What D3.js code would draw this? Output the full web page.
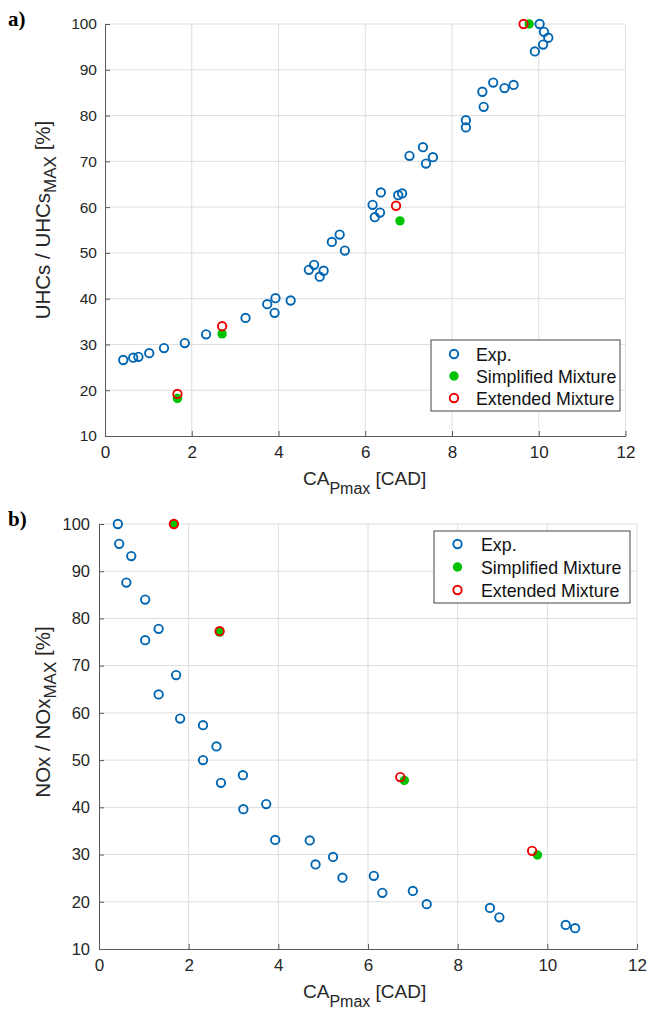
<!DOCTYPE html>
<html><head><meta charset="utf-8">
<script src="https://cdn.jsdelivr.net/npm/d3@7"></script>
<style>
body{margin:0;background:#fff;}
svg{display:block;font-family:"Liberation Sans",Arial,sans-serif;}
</style></head>
<body>
<svg id="chart" width="649" height="1009"></svg>
<script>
// ---------- data ----------
const xTicks = [0, 2, 4, 6, 8, 10, 12];
const yTicks = [10, 20, 30, 40, 50, 60, 70, 80, 90, 100];
const legendLabels = ["Exp.", "Simplified Mixture", "Extended Mixture"];

// panel a: UHCs
const aExpX = [0.42,0.65,0.77,1.02,1.36,1.84,2.33,3.24,3.74,3.93,3.91,4.28,4.70,4.82,5.04,4.95,5.23,5.41,5.53,6.17,6.22,6.34,6.36,6.76,6.85,7.02,7.33,7.40,7.56,8.32,8.32,8.70,8.73,8.95,9.21,9.42,9.91,10.02,10.10,10.12,10.22];
const aExpY = [26.6,27.1,27.3,28.1,29.2,30.3,32.2,35.8,38.8,40.1,36.9,39.6,46.3,47.4,46.1,44.8,52.4,54.0,50.5,60.5,57.8,58.8,63.2,62.6,63.0,71.2,73.1,69.5,70.9,79.0,77.4,85.2,81.9,87.2,86.0,86.7,94.0,100,95.5,98.3,97.0];
const aSimX = [1.67,2.70,6.80,9.78];
const aSimY = [18.2,32.3,57.0,100];
const aExtX = [1.67,2.70,6.71,9.65];
const aExtY = [19.2,34.0,60.3,100];

// panel b: NOx
const bExpX = [0.42,0.45,0.61,0.72,1.03,1.03,1.33,1.33,1.72,1.81,2.32,2.32,2.62,2.72,3.21,3.22,3.73,3.93,4.70,4.83,5.22,5.43,6.13,6.32,7.00,7.31,8.72,8.93,10.41,10.62];
const bExpY = [100,95.8,87.6,93.2,84.0,75.4,77.8,63.9,68.0,58.8,57.4,50.0,52.9,45.2,46.8,39.6,40.7,33.1,33.0,27.9,29.5,25.1,25.5,21.9,22.3,19.5,18.7,16.7,15.1,14.4];
const bSimX = [1.67,2.69,6.81,9.78];
const bSimY = [100,77.1,45.7,29.9];
const bExtX = [1.67,2.69,6.72,9.66];
const bExtY = [100,77.3,46.4,30.8];

// ---------- styles ----------
const BLUE = "#0066b3", GREEN = "#00c200", RED = "#ee0000";
const svg = d3.select("#chart");

function zip(xs, ys){ return xs.map((x,i)=>({x, y: ys[i]})); }

function panel(cfg){
  const x = d3.scaleLinear().domain([0,12]).range([cfg.left, cfg.right]);
  const y = d3.scaleLinear().domain([10,100]).range([cfg.bottom, cfg.top]);
  const g = svg.append("g");

  // grid
  g.append("g").selectAll("line").data(xTicks.slice(1)).join("line")
    .attr("x1", d=>x(d)).attr("x2", d=>x(d)).attr("y1", cfg.top).attr("y2", cfg.bottom)
    .attr("stroke", "#dedede").attr("stroke-width", 1);
  g.append("g").selectAll("line").data(yTicks.slice(1)).join("line")
    .attr("x1", cfg.left).attr("x2", cfg.right).attr("y1", d=>y(d)).attr("y2", d=>y(d))
    .attr("stroke", "#dedede").attr("stroke-width", 1);

  // axes
  const ax = g.append("g").attr("transform", `translate(0,${cfg.bottom})`)
    .call(d3.axisBottom(x).tickValues(xTicks).tickSizeInner(-5).tickSizeOuter(0).tickPadding(10));
  ax.select(".domain").attr("stroke", "#5a5a5a");
  ax.selectAll(".tick line").attr("stroke", "#5a5a5a");
  ax.selectAll("text").attr("font-size", cfg.xtf).attr("fill", "#262626")
    .attr("font-family", "Liberation Sans, Arial, sans-serif");

  const ay = g.append("g").attr("transform", `translate(${cfg.left},0)`)
    .call(d3.axisLeft(y).tickValues(yTicks).tickSizeInner(-5).tickSizeOuter(0).tickPadding(cfg.ypad));
  ay.select(".domain").attr("stroke", "#5a5a5a");
  ay.selectAll(".tick line").attr("stroke", "#5a5a5a");
  ay.selectAll("text").attr("font-size", cfg.ytf).attr("fill", "#262626")
    .attr("font-family", "Liberation Sans, Arial, sans-serif");

  // points
  g.append("g").selectAll("circle").data(zip(cfg.expX, cfg.expY)).join("circle")
    .attr("cx", d=>x(d.x)).attr("cy", d=>y(d.y)).attr("r", 4.2)
    .attr("fill", "none").attr("stroke", BLUE).attr("stroke-width", 1.9);
  g.append("g").selectAll("circle").data(zip(cfg.simX, cfg.simY)).join("circle")
    .attr("cx", d=>x(d.x)).attr("cy", d=>y(d.y)).attr("r", 4.7)
    .attr("fill", GREEN);
  g.append("g").selectAll("circle").data(zip(cfg.extX, cfg.extY)).join("circle")
    .attr("cx", d=>x(d.x)).attr("cy", d=>y(d.y)).attr("r", 4.2)
    .attr("fill", "none").attr("stroke", RED).attr("stroke-width", 1.9);

  // x label
  const xl = g.append("text").attr("x", cfg.xlabX).attr("y", cfg.bottom + 49)
    .attr("font-size", 19).attr("fill", "#262626");
  xl.append("tspan").text("CA");
  xl.append("tspan").attr("dy", 9).attr("font-size", 16).text("Pmax");
  xl.append("tspan").attr("dy", -9).text(" [CAD]");

  // y label
  const yl = g.append("text")
    .attr("transform", `translate(${cfg.ylabX},${cfg.ylabY}) rotate(-90)`)
    .attr("text-anchor", "middle").attr("font-size", 20.5).attr("fill", "#262626");
  yl.append("tspan").text(cfg.yMain);
  yl.append("tspan").attr("dy", 6).attr("font-size", 17).text("MAX");
  yl.append("tspan").attr("dy", -6).text(" [%]");

  // panel letter
  g.append("text").attr("x", 8).attr("y", cfg.top + 2)
    .attr("font-family", "Liberation Serif, Times New Roman, serif")
    .attr("font-weight", "bold").attr("font-size", 21).attr("fill", "#000").text(cfg.letter);

  // legend
  const L = cfg.legend;
  const lg = g.append("g");
  lg.append("rect").attr("x", L.x).attr("y", L.y).attr("width", L.w).attr("height", L.h)
    .attr("fill", "#fff").attr("stroke", "#444").attr("stroke-width", 1);
  const styles = [
    {fill:"none", stroke:BLUE, r:4.2},
    {fill:GREEN, stroke:"none", r:4.7},
    {fill:"none", stroke:RED, r:4.2}
  ];
  legendLabels.forEach((lab, i) => {
    const cy = L.y + L.row0 + i * L.dy;
    const s = styles[i];
    lg.append("circle").attr("cx", L.x + L.mx).attr("cy", cy).attr("r", s.r)
      .attr("fill", s.fill).attr("stroke", s.stroke).attr("stroke-width", 1.9);
    lg.append("text").attr("x", L.x + L.tx).attr("y", cy + 6.5)
      .attr("font-size", 17.8).attr("fill", "#111").text(lab);
  });
}

panel({
  left:105, right:625.5, top:24, bottom:436, xtf:17, ytf:15.5, ypad:8,
  expX:aExpX, expY:aExpY, simX:aSimX, simY:aSimY, extX:aExtX, extY:aExtY,
  xlabX:303, ylabX:50, ylabY:220, yMain:"UHCs / UHCs", letter:"a)",
  legend:{x:431, y:340, w:189, h:71, mx:23, tx:45, row0:14, dy:22}
});
panel({
  left:99, right:637, top:524, bottom:949, xtf:17, ytf:16.5, ypad:9,
  expX:bExpX, expY:bExpY, simX:bSimX, simY:bSimY, extX:bExtX, extY:bExtY,
  xlabX:303, ylabX:50, ylabY:712, yMain:"NOx / NOx", letter:"b)",
  legend:{x:434, y:531, w:196, h:72, mx:23.5, tx:47, row0:13, dy:23}
});
</script>
</body></html>
